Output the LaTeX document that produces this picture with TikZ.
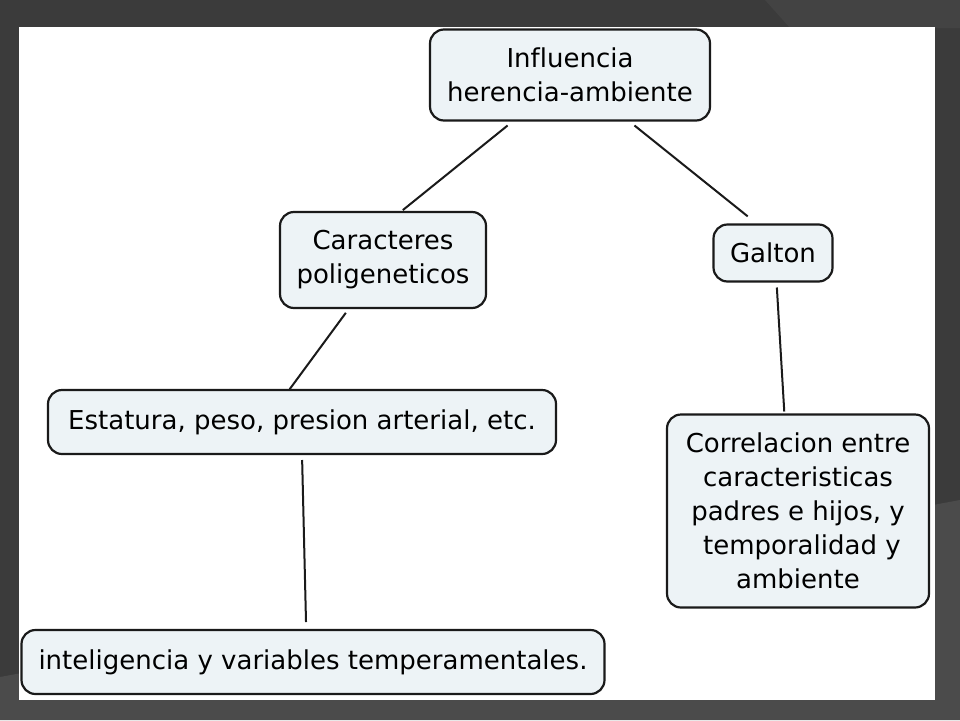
\documentclass[tikz,border=0pt]{standalone}
\usepackage{fontspec}
\setmainfont{DejaVu Sans}[Ligatures=NoCommon]
\usetikzlibrary{positioning}

\definecolor{slidedark}{HTML}{3B3B3B}
\definecolor{slidelight}{HTML}{4B4B4B}
\definecolor{slidemid}{HTML}{434343}
\definecolor{conceptfill}{HTML}{EDF3F6}
\definecolor{conceptline}{HTML}{1A1A1A}

\tikzset{
  concept/.style={draw=conceptline, line width=2.2pt, fill=conceptfill, rounded corners=14pt,
    align=center, inner sep=0pt, outer sep=0pt, font=\fontsize{26}{34}\selectfont},
  link/.style={draw=conceptline, line width=2pt, shorten <=6pt, shorten >=3pt}
}

\begin{document}
\begin{tikzpicture}[x=1pt, y=-1pt]
  \useasboundingbox (0,0) rectangle (960,720);

  % Slide background
  \fill[slidedark] (0,0) rectangle (960,720);
  \fill[slidemid] (765,0) -- (960,0) -- (960,28) -- (790,28) -- cycle;
  \fill[slidelight] (0,677) -- (960,500) -- (960,720) -- (0,720) -- cycle;
  \fill[white] (19,27) rectangle (935,700);

  % Concepts
  \node[concept, minimum width=280pt, minimum height=91pt] (infl) at (570,75) {Influencia\\herencia-ambiente};
  \node[concept, minimum width=206pt, minimum height=96pt] (poli) at (383,260) {Caracteres\\poligeneticos};
  \node[concept, minimum width=119pt, minimum height=57pt] (galton) at (773,253) {Galton};
  \node[concept, minimum width=508pt, minimum height=64pt] (estat) at (302,422) {Estatura, peso, presion arterial, etc.};
  \node[concept, minimum width=262pt, minimum height=193pt] (correl) at (798,511) {Correlacion entre\\caracteristicas\\padres e hijos, y\\\hspace*{0.3em}temporalidad y\\ambiente};
  \node[concept, minimum width=583pt, minimum height=64pt] (intel) at (313,662) {inteligencia y variables temperamentales.};

  % Links
  \draw[link, shorten <=8pt] (infl.219) -- (poli.70);
  \draw[link, shorten <=8pt, shorten >=13pt] (infl.322) -- (galton.118);
  \draw[link] (galton.277) -- (correl.98);
  \draw[link, shorten >=1pt] (poli.235) -- (estat.112);
  \draw[link, shorten >=8pt] (estat.270) -- (intel.102);
\end{tikzpicture}
\end{document}
